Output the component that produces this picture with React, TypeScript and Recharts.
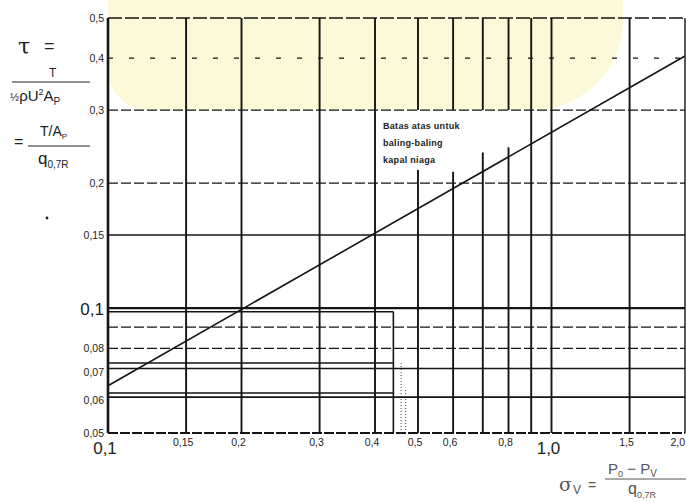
import React from "react";
import {
  LineChart,
  Line,
  XAxis,
  YAxis,
  ReferenceLine,
} from "recharts";

// cavitation number sigma_V (x) vs thrust loading coefficient tau (y), log-log
const xTicks = [0.1, 0.15, 0.2, 0.3, 0.4, 0.5, 0.6, 0.8, 1.0, 1.5, 2.0];
const yTicks = [0.05, 0.06, 0.07, 0.08, 0.1, 0.15, 0.2, 0.3, 0.4, 0.5];

// vertical grid
const xGridFull = [0.15, 0.2, 0.3, 0.4, 0.9, 1.0, 1.5];
const xGridBroken = [0.5, 0.6, 0.7, 0.8];
const xGridBrokenLow = [0.215, 0.213, 0.237, 0.244];

// horizontal grid
const ySolid = [0.15, 0.1, 0.0715, 0.061];
const yDashed = [0.3, 0.2, 0.09, 0.08];
const ySparse = [0.4];
const yShort = [0.098, 0.0737, 0.0624];
const shortEnd = 0.44;
const dotted = [
  { x: 0.458, top: 0.074 },
  { x: 0.469, top: 0.064 },
];

// upper limit for merchant ship propellers
const limitLine = [
  { sigma: 0.1, tau: 0.065 },
  { sigma: 2.0, tau: 0.405 },
];

const INK = "#151515";
const FONT = "'Liberation Sans', Arial, sans-serif";

const fmt = (v: number) =>
  (Number.isInteger(v) ? v.toFixed(1) : String(v)).replace(".", ",");

function XTick({ x, y, payload }: any) {
  const big = payload.value === 0.1 || payload.value === 1;
  const last = payload.value === 2;
  return (
    <text
      x={last ? 685 : x - 3}
      y={y}
      dy={big ? 19 : 11}
      textAnchor={last ? "end" : "middle"}
      fontSize={big ? 17 : 10.5}
      fontFamily={FONT}
      fill="#222"
    >
      {fmt(payload.value)}
    </text>
  );
}

function YTick({ x, y, payload }: any) {
  const big = payload.value === 0.1;
  return (
    <text
      x={x}
      y={y}
      dy={big ? 7 : 4}
      textAnchor="end"
      fontSize={big ? 17 : 10.5}
      fontFamily={FONT}
      fill="#222"
    >
      {fmt(payload.value)}
    </text>
  );
}

export default function App() {
  return (
    <div style={{ position: "relative", width: 686, height: 502, background: "#fff", overflow: "hidden" }}>
      <style>{`body{margin:0}`}</style>

      {/* faint watermark */}
      <div
        style={{
          position: "absolute",
          left: 108,
          top: 0,
          width: 515,
          height: 110,
          background: "#fbf9d8",
          borderBottomLeftRadius: 40,
          borderBottomRightRadius: 90,
        }}
      />

      <div style={{ position: "absolute", left: 0, top: 0 }}>
        <LineChart
          width={686}
          height={502}
          data={limitLine}
          margin={{ top: 18, right: 1, bottom: 39, left: 48 }}
        >
          <XAxis
            dataKey="sigma"
            type="number"
            scale="log"
            domain={[0.1, 2]}
            ticks={xTicks}
            interval={0}
            allowDataOverflow
            tick={<XTick />}
            tickLine={false}
            axisLine={false}
            tickSize={0}
            tickMargin={2}
            height={30}
          />
          <YAxis
            type="number"
            scale="log"
            domain={[0.05, 0.5]}
            ticks={yTicks}
            interval={0}
            allowDataOverflow
            tick={<YTick />}
            tickLine={false}
            axisLine={false}
            tickSize={0}
            tickMargin={4}
            width={60}
          />

          {/* frame */}
          <ReferenceLine y={0.5} stroke={INK} strokeWidth={1.6} strokeDasharray="14 3" />
          <ReferenceLine y={0.05} stroke={INK} strokeWidth={1.8} strokeDasharray="10 2" />
          <ReferenceLine x={0.1} stroke={INK} strokeWidth={2.6} />
          <ReferenceLine x={2} stroke={INK} strokeWidth={1.4} />

          {/* horizontal grid */}
          {ySolid.map((v) => (
            <ReferenceLine key={`ys${v}`} y={v} stroke={INK} strokeWidth={v === 0.1 ? 2.2 : 1.6} />
          ))}
          {yDashed.map((v) => (
            <ReferenceLine key={`yd${v}`} y={v} stroke={INK} strokeWidth={1.3} strokeDasharray="10 3" />
          ))}
          {ySparse.map((v) => (
            <ReferenceLine key={`yp${v}`} y={v} stroke={INK} strokeWidth={1.3} strokeDasharray="5 16" />
          ))}
          {yShort.map((v) => (
            <ReferenceLine
              key={`yh${v}`}
              segment={[
                { x: 0.1, y: v },
                { x: shortEnd, y: v },
              ]}
              stroke={INK}
              strokeWidth={1.4}
            />
          ))}
          <ReferenceLine
            segment={[
              { x: shortEnd, y: 0.05 },
              { x: shortEnd, y: 0.098 },
            ]}
            stroke={INK}
            strokeWidth={1.6}
          />
          {dotted.map((d) => (
            <ReferenceLine
              key={`dt${d.x}`}
              segment={[
                { x: d.x, y: 0.05 },
                { x: d.x, y: d.top },
              ]}
              stroke="#444"
              strokeWidth={1}
              strokeDasharray="1 2"
            />
          ))}

          {/* vertical grid */}
          {xGridFull.map((v) => (
            <ReferenceLine key={`xf${v}`} x={v} stroke={INK} strokeWidth={1.9} />
          ))}
          {xGridBroken.map((v, i) => (
            <React.Fragment key={`xb${v}`}>
              <ReferenceLine
                segment={[
                  { x: v, y: 0.05 },
                  { x: v, y: xGridBrokenLow[i] },
                ]}
                stroke={INK}
                strokeWidth={1.9}
              />
              <ReferenceLine
                segment={[
                  { x: v, y: 0.3 },
                  { x: v, y: 0.5 },
                ]}
                stroke={INK}
                strokeWidth={1.9}
              />
            </React.Fragment>
          ))}

          <Line
            type="linear"
            dataKey="tau"
            stroke={INK}
            strokeWidth={1.6}
            dot={false}
            isAnimationActive={false}
          />
        </LineChart>
      </div>

      {/* axis titles and annotation */}
      <svg
        width={686}
        height={502}
        style={{ position: "absolute", left: 0, top: 0, pointerEvents: "none" }}
        fontFamily={FONT}
        fill="#222"
      >
        <text x={18} y={54} fontSize={22} fontFamily="'DejaVu Serif', serif">τ</text>
        <text x={44} y={52} fontSize={18}>=</text>
        <text x={49} y={77} fontSize={12}>T</text>
        <line x1={12} x2={90} y1={82} y2={82} stroke="#222" strokeWidth={1} />
        <text x={10} y={101} fontSize={15}>
          <tspan fontSize={11}>½</tspan>
          <tspan>ρU</tspan>
          <tspan dy={-6} fontSize={9}>2</tspan>
          <tspan dy={6}>A</tspan>
          <tspan dy={4} fontSize={10}>P</tspan>
        </text>

        <text x={14} y={147} fontSize={16}>=</text>
        <text x={40} y={136} fontSize={14}>
          <tspan>T/A</tspan>
          <tspan dy={3} fontSize={8}>P</tspan>
        </text>
        <line x1={28} x2={90} y1={146} y2={146} stroke="#222" strokeWidth={1} />
        <text x={38} y={164} fontSize={17}>
          <tspan>q</tspan>
          <tspan dy={4} fontSize={10}>0,7R</tspan>
        </text>
        <circle cx={47} cy={218} r={1.4} fill="#222" />

        <text x={383} y={129} fontSize={9} fontWeight="bold" letterSpacing={0.3}>Batas atas untuk</text>
        <text x={383} y={146} fontSize={9} fontWeight="bold" letterSpacing={0.3}>baling-baling</text>
        <text x={383} y={163} fontSize={9} fontWeight="bold" letterSpacing={0.3}>kapal niaga</text>

        <g fill="#555">
          <text x={559} y={491} fontSize={19} fontFamily="'DejaVu Serif', serif">σ</text>
          <text x={573} y={494} fontSize={12}>V</text>
          <text x={588} y={490} fontSize={14}>=</text>
          <text x={608} y={474} fontSize={15}>
            <tspan>P</tspan>
            <tspan dy={3} fontSize={9}>0</tspan>
            <tspan dy={-3}> − P</tspan>
            <tspan dy={3} fontSize={10}>V</tspan>
          </text>
          <line x1={605} x2={686} y1={479} y2={479} stroke="#555" strokeWidth={1} />
          <text x={628} y={494} fontSize={16}>
            <tspan>q</tspan>
            <tspan dy={4} fontSize={9}>0,7R</tspan>
          </text>
        </g>
      </svg>
    </div>
  );
}
